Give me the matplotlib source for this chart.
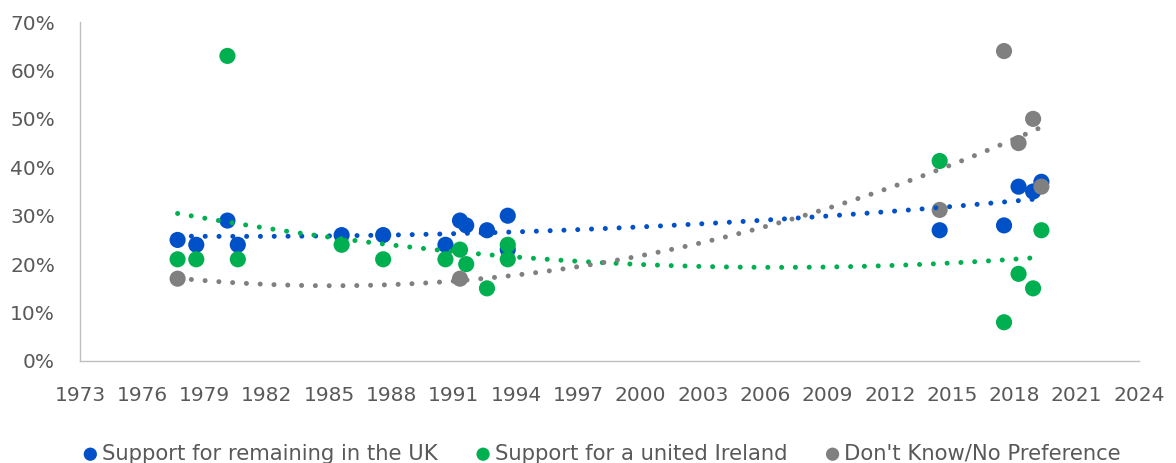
import numpy as np
import matplotlib
matplotlib.use('Agg')
import matplotlib.pyplot as plt
from matplotlib.ticker import FuncFormatter

plt.rcParams['font.family'] = ['DejaVu Sans']

# survey dates (decimal years) and shares in %
uk_years = [1977.7, 1978.6, 1980.1, 1980.6, 1985.6, 1987.6, 1990.6, 1991.3, 1991.6,
            1992.6, 1993.6, 1993.6, 2014.4, 2017.5, 2018.2, 2018.9, 2019.3]
uk_vals = [25, 24, 29, 24, 26, 26, 24, 29, 28, 27, 30, 23, 27, 28, 36, 35, 37]

ireland_years = [1977.7, 1978.6, 1980.1, 1980.6, 1985.6, 1987.6, 1990.6, 1991.3, 1991.6,
                 1992.6, 1993.6, 1993.6, 2014.4, 2017.5, 2018.2, 2018.9, 2019.3]
ireland_vals = [21, 21, 63, 21, 24, 21, 21, 23, 20, 15, 24, 21, 41.3, 8, 18, 15, 27]

dk_years = [1977.7, 1991.3, 2014.4, 2017.5, 2018.2, 2018.9, 2019.3]
dk_vals = [17, 17, 31.2, 64, 45, 50, 36]

labels = ['Support for remaining in the UK', 'Support for a united Ireland',
          "Don't Know/No Preference"]
colors = ['#0050C8', '#00B050', '#808080']
series = [(uk_years, uk_vals), (ireland_years, ireland_vals), (dk_years, dk_vals)]

fig = plt.figure(figsize=(11.76, 4.63), dpi=100)
ax = fig.add_axes([80 / 1176, 1 - 361 / 463, (1139 - 80) / 1176, (361 - 22) / 463])

handles = []
for (xs, ys), c, lab in zip(series, colors, labels):
    h = ax.scatter(xs, ys, s=135, color=c, edgecolors='none', label=lab, zorder=2)
    handles.append(h)

# polynomial (order 2) trend lines, as in the spreadsheet
for (xs, ys), c in zip(series, colors):
    coef = np.polyfit(xs, ys, 2)
    tx = np.linspace(min(xs), max(xs), 200)
    ax.plot(tx, np.polyval(coef, tx), color=c, lw=3.6,
            linestyle=(0, (0.01, 2.75)), dash_capstyle='round', zorder=3)

ax.set_xlim(1973, 2024)
ax.set_ylim(0, 70)
ax.set_xticks(np.arange(1973, 2025, 3))
ax.set_yticks(np.arange(0, 71, 10))
ax.yaxis.set_major_formatter(FuncFormatter(lambda v, p: f'{int(v)}%'))

for side in ['top', 'right']:
    ax.spines[side].set_visible(False)
for side in ['left', 'bottom']:
    ax.spines[side].set_color('#BFBFBF')
    ax.spines[side].set_linewidth(1.0)

ax.tick_params(axis='both', length=0, labelsize=14.5, labelcolor='#595959')
ax.tick_params(axis='x', pad=18)
ax.tick_params(axis='y', pad=18)

fig.legend(handles=handles, loc='center', bbox_to_anchor=(0.51, 0.02), ncol=3,
           frameon=False, fontsize=15.2, labelcolor='#595959', markerscale=0.82,
           handletextpad=0.0, columnspacing=1.6, handlelength=1.1)

fig.savefig('out.png', dpi=100)
